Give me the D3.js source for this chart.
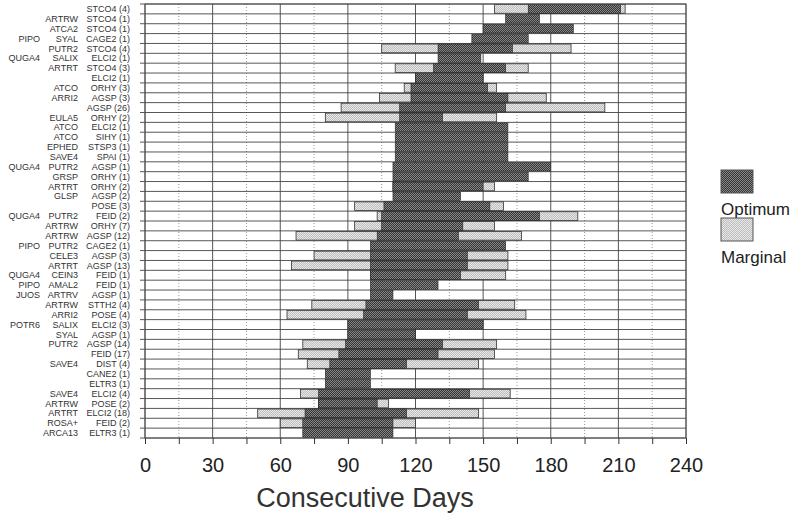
<!DOCTYPE html>
<html>
<head>
<meta charset="utf-8">
<script src="https://cdn.jsdelivr.net/npm/d3@7"></script>
<style>
  body { margin: 0; background: #fff; }
  svg text { font-family: "Liberation Sans", Arial, sans-serif; }
</style>
</head>
<body>
<div class="chart-container"></div>
<script>
// row labels (three columns), top row first
var col1 = ['', '', '', 'PIPO', '', 'QUGA4', '', '', '', '', '', '', '', '', '', '', 'QUGA4', '', '', '', '',
  'QUGA4', '', '', 'PIPO', '', '', 'QUGA4', 'PIPO', 'JUOS', '', '', 'POTR6', '', '', '', '', '', '', '', '', '', '', ''];
var col2 = ['', 'ARTRW', 'ATCA2', 'SYAL', 'PUTR2', 'SALIX', 'ARTRT', '', 'ATCO', 'ARRI2', '', 'EULA5', 'ATCO', 'ATCO',
  'EPHED', 'SAVE4', 'PUTR2', 'GRSP', 'ARTRT', 'GLSP', '', 'PUTR2', 'ARTRW', 'ARTRW', 'PUTR2', 'CELE3', 'ARTRT',
  'CEIN3', 'AMAL2', 'ARTRV', 'ARTRW', 'ARRI2', 'SALIX', 'SYAL', 'PUTR2', '', 'SAVE4', '', '', 'SAVE4', 'ARTRW',
  'ARTRT', 'ROSA+', 'ARCA13'];
var col3 = ['STCO4 (4)', 'STCO4 (1)', 'STCO4 (1)', 'CAGE2 (1)', 'STCO4 (4)', 'ELCI2 (1)', 'STCO4 (3)', 'ELCI2 (1)',
  'ORHY (3)', 'AGSP (3)', 'AGSP (26)', 'ORHY (2)', 'ELCI2 (1)', 'SIHY (1)', 'STSP3 (1)', 'SPAI (1)', 'AGSP (1)',
  'ORHY (1)', 'ORHY (2)', 'AGSP (2)', 'POSE (3)', 'FEID (2)', 'ORHY (7)', 'AGSP (12)', 'CAGE2 (1)', 'AGSP (3)',
  'AGSP (13)', 'FEID (1)', 'FEID (1)', 'AGSP (1)', 'STTH2 (4)', 'POSE (4)', 'ELCI2 (3)', 'AGSP (1)', 'AGSP (14)',
  'FEID (17)', 'DIST (4)', 'CANE2 (1)', 'ELTR3 (1)', 'ELCI2 (4)', 'POSE (2)', 'ELCI2 (18)', 'FEID (2)', 'ELTR3 (1)'];

// optimum range (days)
var optStart = [170, 160, 150, 145, 130, 130, 128, 120, 118, 118, 113, 113, 111, 111, 111, 111, 110, 110, 110, 110,
  106, 105, 105, 103, 100, 100, 100, 100, 100, 100, 98, 97, 90, 90, 89, 86, 82, 80, 80, 77, 77, 71, 70, 70];
var optEnd = [211, 175, 190, 170, 163, 149, 160, 150, 152, 161, 160, 132, 161, 161, 161, 161, 180, 170, 150, 140,
  153, 175, 141, 139, 160, 143, 143, 140, 130, 110, 148, 143, 150, 120, 132, 130, 116, 100, 100, 144, 103, 116, 110, 110];

// marginal range (days), null where there is none
var margStart = [155, null, null, null, 105, null, 111, null, 115, 104, 87, 80, null, null, null, null, null, null, 110, null,
  93, 103, 93, 67, null, 75, 65, 100, null, null, 74, 63, null, null, 70, 68, 72, null, null, 69, 77, 50, 60, null];
var margEnd = [213, null, null, null, 189, null, 170, null, 156, 178, 204, 156, null, null, null, null, null, null, 155, null,
  159, 192, 155, 167, null, 161, 161, 160, null, null, 164, 169, null, null, 156, 155, 148, null, null, 162, 108, 148, 120, null];

var xTicks = [0, 15, 30, 45, 60, 75, 90, 105, 120, 135, 150, 165, 180, 195, 210, 225, 240];
var legendItems = ['Optimum', 'Marginal'];

var width = 794, height = 515;
var plot = {left: 145, right: 686, top: 4, bottom: 438};

var svg = d3.select('.chart-container').append('svg')
    .attr('width', width)
    .attr('height', height);

// stipple fills
var defs = svg.append('defs');
function stipple(id, a, b) {
  var p = defs.append('pattern')
      .attr('id', id)
      .attr('width', 2).attr('height', 2)
      .attr('patternUnits', 'userSpaceOnUse');
  p.append('rect').attr('width', 2).attr('height', 2).attr('fill', a);
  p.append('rect').attr('width', 1).attr('height', 1).attr('fill', b);
  p.append('rect').attr('x', 1).attr('y', 1).attr('width', 1).attr('height', 1).attr('fill', b);
}
stipple('optFill', '#353535', '#878787');
stipple('margFill', '#bdbdbd', '#e8e8e8');
var fills = {Optimum: 'url(#optFill)', Marginal: 'url(#margFill)'};

var rows = d3.range(col3.length);

var x = d3.scaleLinear()
    .domain([0, 240])
    .range([plot.left, plot.right]);

var y = d3.scaleBand()
    .domain(rows)
    .range([plot.top, plot.bottom])
    .paddingInner(0.12)
    .paddingOuter(0.06);

var step = y.step();

// grid
var grid = svg.append('g').attr('class', 'grid');
grid.selectAll('.vline').data(xTicks).enter().append('line')
    .attr('x1', function (d) { return x(d); })
    .attr('x2', function (d) { return x(d); })
    .attr('y1', plot.top)
    .attr('y2', plot.bottom)
    .attr('stroke', function (d) { return d % 30 === 0 ? '#555' : '#999'; })
    .attr('stroke-width', 1)
    .attr('stroke-dasharray', function (d) { return d % 30 === 0 ? null : '1,2'; });

grid.selectAll('.hline').data(d3.range(col3.length + 1)).enter().append('line')
    .attr('x1', plot.left - 5)
    .attr('x2', plot.right)
    .attr('y1', function (i) { return plot.top + i * step; })
    .attr('y2', function (i) { return plot.top + i * step; })
    .attr('stroke', '#444')
    .attr('stroke-width', 0.9);

// bars
var bars = svg.append('g').attr('class', 'bars');
bars.selectAll('.marg').data(rows.filter(function (i) { return margStart[i] !== null; })).enter().append('rect')
    .attr('class', 'marg')
    .attr('x', function (i) { return x(margStart[i]); })
    .attr('y', function (i) { return y(i); })
    .attr('width', function (i) { return x(margEnd[i]) - x(margStart[i]); })
    .attr('height', y.bandwidth())
    .attr('fill', fills.Marginal)
    .attr('stroke', '#333')
    .attr('stroke-width', 0.8);

bars.selectAll('.opt').data(rows).enter().append('rect')
    .attr('class', 'opt')
    .attr('x', function (i) { return x(optStart[i]); })
    .attr('y', function (i) { return y(i); })
    .attr('width', function (i) { return x(optEnd[i]) - x(optStart[i]); })
    .attr('height', y.bandwidth())
    .attr('fill', fills.Optimum)
    .attr('stroke', '#222')
    .attr('stroke-width', 0.6);

// frame
svg.append('rect')
    .attr('x', plot.left).attr('y', plot.top)
    .attr('width', plot.right - plot.left)
    .attr('height', plot.bottom - plot.top)
    .attr('fill', 'none')
    .attr('stroke', '#555');

// x axis
var xAxis = d3.axisBottom(x)
    .tickValues(xTicks)
    .tickSize(6)
    .tickPadding(14)
    .tickFormat(function (d) { return d % 30 === 0 ? d : ''; });

var ax = svg.append('g')
    .attr('transform', 'translate(0,' + plot.bottom + ')')
    .call(xAxis);
ax.select('.domain').remove();
ax.selectAll('.tick line').attr('stroke', '#333');
ax.selectAll('.tick text')
    .attr('fill', '#222')
    .style('font-size', '20px');

svg.append('text')
    .attr('x', 365)
    .attr('y', 507)
    .attr('text-anchor', 'middle')
    .attr('fill', '#333')
    .style('font-size', '27px')
    .text('Consecutive Days');

// row labels
var labels = svg.append('g').attr('class', 'labels')
    .style('font-size', '9px')
    .attr('fill', '#333')
    .attr('text-anchor', 'end');
[[col1, 40], [col2, 78], [col3, 130]].forEach(function (c) {
  labels.selectAll(null).data(rows).enter().append('text')
      .attr('x', c[1])
      .attr('y', function (i) { return y(i) + y.bandwidth() / 2; })
      .attr('dy', '0.35em')
      .text(function (i) { return c[0][i]; });
});

// legend
var legend = svg.append('g').attr('class', 'legend');
legendItems.forEach(function (name, k) {
  var top = 170 + k * 48;
  legend.append('rect')
      .attr('x', 721).attr('y', top)
      .attr('width', 32).attr('height', 23)
      .attr('fill', fills[name])
      .attr('stroke', '#555');
  legend.append('text')
      .attr('x', 721).attr('y', top + 45)
      .attr('fill', '#222')
      .style('font-size', '17px')
      .text(name);
});
</script>
</body>
</html>
